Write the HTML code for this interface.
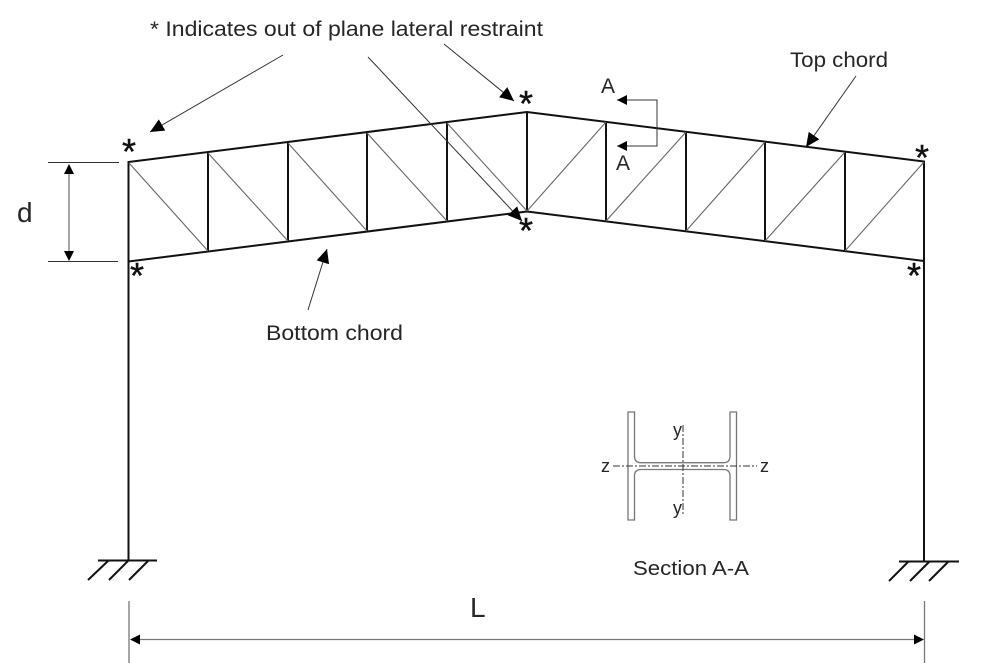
<!DOCTYPE html>
<html><head><meta charset="utf-8"><style>
html,body{margin:0;padding:0;background:#fff}
svg{display:block}
text{font-family:"Liberation Sans",sans-serif;fill:#262626}
.s{stroke:#111;stroke-width:2;fill:none}
.d{stroke:#666;stroke-width:1.1;fill:none}
.t{stroke:#333;stroke-width:1;fill:none}
.g{stroke:#777;stroke-width:1.3;fill:none}
.st{font-size:36px;text-anchor:middle;fill:#111;stroke:#111;stroke-width:.4}
</style></head><body>
<svg width="1007" height="663" viewBox="0 0 1007 663" xmlns="http://www.w3.org/2000/svg">
<defs>
<marker id="a" viewBox="0 0 14 13" refX="14" refY="6.500" markerWidth="14" markerHeight="13" markerUnits="userSpaceOnUse" orient="auto"><path d="M0 0L14 6.500L0 13Z" fill="#000"/></marker>
</defs>
<!-- frame -->
<path class="s" d="M128.500 560V162L527 112L924 161.500V561"/>
<path class="s" d="M128.500 261.500L527 211.500L924 261"/>
<path class="s" d="M208 152V251M288 142V241M367 132V231M447 122V221M527 112V211M606 122V221M686 132V231M765 142V241M845 152V251"/>
<!-- diagonals -->
<path class="d" d="M129 163L208 251M208 153L288 241M288 143L367 231M367 133L447 221M447 123L527 211M527 211L606 122M606 221L686 132M686 231L765 142M765 241L845 152M845 251L924 162"/>
<!-- supports -->
<path class="s" d="M98 560.500H157M88 580L108 561M109 580L128 561M129 580L148 561"/>
<path class="s" d="M899 561.500H959M889 581L908 562M910 581L929 562M929 581L948 562"/>
<!-- leader arrows -->
<path class="t" d="M283 55L150 132" marker-end="url(#a)"/>
<path class="t" d="M444 44L514 101" marker-end="url(#a)"/>
<path class="t" d="M368 57L522 221" marker-end="url(#a)"/>
<path class="t" d="M856 76L806 147" marker-end="url(#a)"/>
<path class="t" d="M308 310L327 249" marker-end="url(#a)"/>
<path class="t" d="M617 100H657V146H617"/>
<path d="M617 100L627 95V105Z M617 146L627 141V151Z" fill="#000"/>
<!-- d dimension -->
<path class="t" d="M48 162.500H119M48 261.500H118"/>
<path class="g" d="M69 170V254"/>
<path d="M69 164L74 174H64Z M69 261L74 251H64Z" fill="#000"/>
<!-- L dimension -->
<path class="g" d="M129 601V663M924.500 601V663"/>
<path class="g" d="M138 639.500H916"/>
<path d="M130 639.500L140 634.500V644.500Z M924 639.500L914 634.500V644.500Z" fill="#000"/>
<!-- section -->
<path class="g" d="M628 412H634.500V456Q634.500 462.700 641 462.700H723.500Q730 462.700 730 456V412H736.500V520H730V476Q730 469.500 723.500 469.500H641Q634.500 469.500 634.500 476V520H628Z"/>
<path d="M613 466H757" stroke="#333" stroke-width="1" stroke-dasharray="7 2 2 2" fill="none"/>
<path d="M683 425V515" stroke="#333" stroke-width="1" stroke-dasharray="7 2 2 2" fill="none"/>
<!-- stars -->
<text class="st" x="129" y="164">*</text>
<text class="st" x="137" y="288">*</text>
<text class="st" x="526" y="116">*</text>
<text class="st" x="526" y="243">*</text>
<text class="st" x="922" y="170">*</text>
<text class="st" x="914" y="288">*</text>
<!-- labels -->
<text x="150" y="36" font-size="21" textLength="393" lengthAdjust="spacingAndGlyphs">* Indicates out of plane lateral restraint</text>
<text x="790" y="67" font-size="21" textLength="98" lengthAdjust="spacingAndGlyphs">Top chord</text>
<text x="266" y="340" font-size="21" textLength="137" lengthAdjust="spacingAndGlyphs">Bottom chord</text>
<text x="633" y="575" font-size="20" textLength="116" lengthAdjust="spacingAndGlyphs">Section A-A</text>
<text x="601" y="93" font-size="21">A</text>
<text x="616" y="170" font-size="21">A</text>
<text x="17" y="222" font-size="28">d</text>
<text x="470" y="617" font-size="28">L</text>
<text x="601" y="472" font-size="18">z</text>
<text x="760" y="472" font-size="18">z</text>
<text x="673" y="436" font-size="18">y</text>
<text x="673" y="514" font-size="18">y</text>
</svg>
</body></html>
